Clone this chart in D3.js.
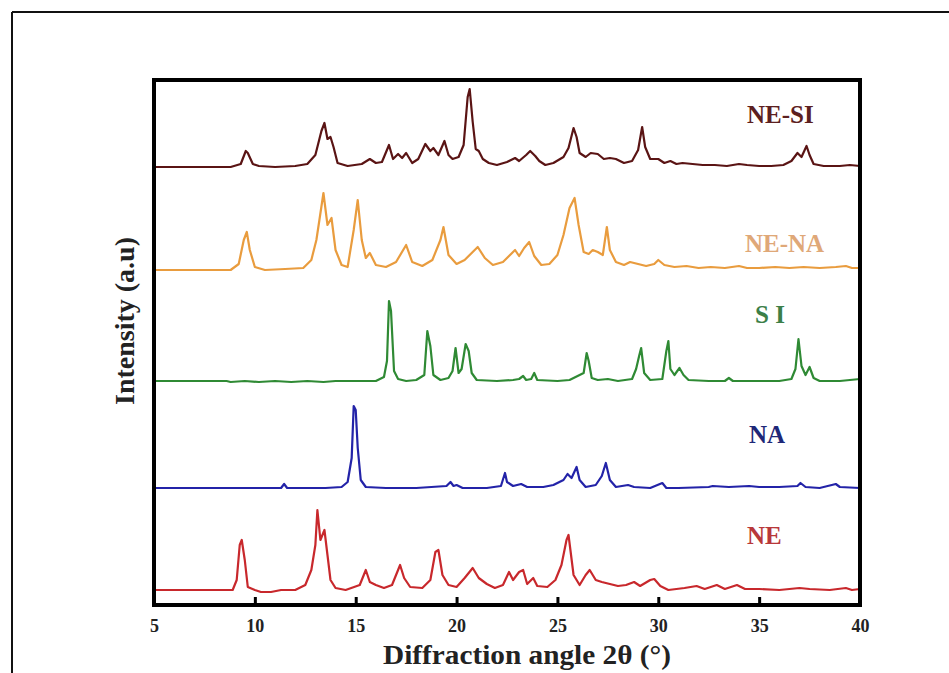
<!DOCTYPE html>
<html>
<head>
<meta charset="utf-8">
<script src="https://cdn.jsdelivr.net/npm/d3@7"></script>
<style>
  body { margin: 0; background: #fff; }
  text { font-family: "Liberation Serif", "Times New Roman", serif; font-weight: bold; }
</style>
</head>
<body>
<div id="chart"></div>
<script>
// XRD patterns, [2theta, intensity above own baseline (a.u.)]
const seriesNames = ["NE", "NA", "SI", "NE-NA", "NE-SI"];
const seriesOffsets = [15, 117, 224, 335, 438];
const xTicks = [5, 10, 15, 20, 25, 30, 35, 40];

const neData = [
  [5, 0], [7, 0], [8.9, 0], [9.1, 10], [9.25, 45], [9.35, 50], [9.5, 30], [9.65, 3], [10, 0], [10.3, -2],
  [10.8, -2], [11.3, 0], [12, 0], [12.5, 5], [12.8, 20], [13, 45], [13.1, 80], [13.25, 50], [13.45, 60],
  [13.6, 35], [13.75, 10], [14, 2], [14.5, 0], [15.2, 5], [15.5, 20], [15.7, 8], [16, 5], [16.4, 2],
  [16.8, 5], [17.2, 25], [17.4, 12], [17.7, 3], [18.3, 2], [18.7, 10], [18.95, 38], [19.1, 40], [19.3, 15],
  [19.6, 5], [20, 3], [20.4, 12], [20.8, 22], [21.1, 12], [21.5, 6], [21.9, 2], [22.3, 5], [22.6, 18],
  [22.8, 10], [23.1, 18], [23.3, 20], [23.5, 6], [23.8, 12], [24, 4], [24.5, 3], [24.9, 10], [25.2, 25],
  [25.45, 50], [25.55, 55], [25.8, 15], [26.1, 5], [26.4, 15], [26.6, 20], [26.9, 10], [27.2, 8], [27.6, 6],
  [28, 4], [28.4, 5], [28.8, 8], [29.1, 4], [29.6, 10], [29.8, 11], [30.1, 4], [30.5, 0], [31.3, 2],
  [31.9, 4], [32.3, 1], [32.9, 5], [33.3, 1], [33.9, 5], [34.3, 1], [35, 1], [36, 0], [37, 2], [37.5, 1],
  [38.5, 0], [39.3, 2], [39.6, 0], [40, 1]
];

const naData = [
  [5, 0], [8, 0], [11.3, 0], [11.45, 4], [11.6, 0], [13.5, 0], [14.3, 1], [14.6, 6], [14.8, 30], [14.9, 82],
  [15, 78], [15.1, 40], [15.25, 8], [15.5, 1], [16.5, 0], [18, 0], [19.5, 2], [19.7, 6], [19.85, 2], [20, 3],
  [20.3, 0], [21.5, 0], [22.2, 2], [22.4, 15], [22.5, 6], [22.8, 2], [23.2, 4], [23.5, 1], [24.3, 1],
  [24.8, 3], [25.3, 8], [25.5, 14], [25.7, 10], [25.95, 21], [26.1, 8], [26.4, 1], [26.9, 3], [27.2, 12],
  [27.4, 25], [27.6, 8], [27.9, 1], [28.5, 3], [28.8, 1], [29.6, 0], [30.2, 5], [30.4, 0], [31, 0],
  [32.5, 1], [32.7, 2], [33.5, 1], [34.5, 2], [35, 1], [36, 1], [36.9, 2], [37.05, 5], [37.3, 1], [38, 0],
  [38.8, 4], [39, 1], [40, 0]
];

const siData = [
  [5, 0], [8.6, 0], [8.8, -1], [9.5, 0], [10.2, -1], [11, 0], [11.8, -1], [12.6, 0], [13.4, -1], [14, 0],
  [16, 0], [16.4, 4], [16.55, 20], [16.65, 80], [16.75, 70], [16.9, 10], [17.1, 2], [17.5, 0], [18, 1],
  [18.4, 6], [18.55, 50], [18.7, 35], [18.85, 6], [19.2, 1], [19.6, 3], [19.8, 10], [19.95, 33], [20.1, 8],
  [20.25, 12], [20.45, 37], [20.6, 30], [20.75, 8], [21, 1], [22, 0], [22.8, 1], [23.1, 2], [23.3, 5],
  [23.45, 1], [23.7, 2], [23.85, 8], [24, 1], [25, 0], [25.6, 1], [26.3, 8], [26.45, 28], [26.55, 20],
  [26.7, 3], [27, 1], [27.5, 2], [28, 0], [28.7, 2], [28.9, 12], [29.05, 25], [29.15, 33], [29.3, 8],
  [29.6, 1], [30.2, 2], [30.4, 30], [30.5, 40], [30.6, 12], [30.8, 6], [31.05, 13], [31.25, 6], [31.5, 1],
  [32.5, 0], [33.3, 0], [33.5, 3], [33.7, 0], [35, 0], [36, 0], [36.6, 2], [36.8, 12], [36.95, 42],
  [37.1, 15], [37.3, 6], [37.5, 14], [37.7, 3], [38, 0], [39, 0], [40, 2]
];

const nenaData = [
  [5, 0], [8.8, 0], [9.2, 6], [9.45, 30], [9.6, 38], [9.75, 20], [10, 3], [10.5, 0], [11.5, 1], [12.4, 2],
  [12.8, 10], [13.05, 30], [13.2, 50], [13.4, 77], [13.6, 45], [13.8, 52], [14, 20], [14.3, 5], [14.6, 3],
  [14.9, 40], [15.1, 70], [15.3, 30], [15.5, 12], [15.7, 17], [16, 5], [16.5, 3], [17, 8], [17.5, 25],
  [17.8, 8], [18.3, 4], [18.8, 10], [19.2, 30], [19.35, 43], [19.6, 15], [20, 6], [20.4, 10], [20.8, 18],
  [21.05, 23], [21.4, 12], [21.8, 5], [22.3, 8], [22.6, 14], [22.9, 20], [23.1, 14], [23.35, 22],
  [23.6, 28], [23.85, 14], [24.2, 5], [24.6, 6], [25, 15], [25.3, 35], [25.6, 62], [25.85, 72],
  [26.05, 45], [26.3, 18], [26.55, 16], [26.75, 20], [27, 18], [27.25, 15], [27.45, 43], [27.6, 20],
  [27.9, 8], [28.3, 5], [28.6, 8], [29, 6], [29.4, 4], [29.8, 6], [30, 10], [30.3, 5], [30.8, 3],
  [31.4, 4], [32, 2], [32.6, 3], [33.3, 2], [34, 4], [34.4, 2], [35, 2], [35.8, 3], [36.5, 2], [37.2, 3],
  [38, 2], [38.8, 3], [39.3, 4], [39.6, 2], [40, 2]
];

const nesiData = [
  [5, 0], [7, 0], [8.8, 0], [9.3, 3], [9.55, 16], [9.65, 14], [9.9, 3], [10.2, 1], [11, 0], [12, 1],
  [12.6, 3], [13, 12], [13.3, 36], [13.45, 44], [13.6, 28], [13.75, 30], [13.9, 20], [14.1, 4], [14.6, 1],
  [15.3, 3], [15.7, 8], [16, 4], [16.3, 5], [16.65, 22], [16.85, 8], [17.1, 13], [17.3, 9], [17.5, 14],
  [17.8, 4], [18.1, 8], [18.45, 23], [18.7, 16], [18.85, 19], [19.1, 12], [19.4, 26], [19.6, 12],
  [19.8, 8], [20.1, 10], [20.35, 22], [20.55, 70], [20.65, 78], [20.8, 45], [20.95, 18], [21.1, 16],
  [21.3, 8], [21.6, 4], [22, 2], [22.5, 5], [22.9, 9], [23.1, 6], [23.45, 12], [23.65, 16], [23.9, 11],
  [24.1, 6], [24.4, 2], [24.8, 4], [25.3, 10], [25.55, 19], [25.8, 39], [25.95, 30], [26.1, 14],
  [26.4, 10], [26.65, 14], [27, 13], [27.3, 8], [27.6, 9], [27.9, 8], [28.3, 4], [28.7, 6], [29, 17],
  [29.2, 40], [29.35, 20], [29.6, 8], [30, 8], [30.3, 4], [30.6, 6], [30.9, 3], [31.2, 4], [31.7, 3],
  [32.2, 2], [32.8, 2], [33.4, 1], [34, 3], [34.4, 2], [35, 1], [35.6, 1], [36.2, 2], [36.6, 6],
  [36.9, 14], [37.1, 10], [37.35, 21], [37.5, 12], [37.7, 3], [38.2, 1], [39, 1], [39.5, 2], [40, 1]
];

const seriesData = [neData, naData, siData, nenaData, nesiData];
const lineColors = ["#c8282c", "#2323a8", "#2f8a34", "#e99c3e", "#5a1414"];
const labelColors = ["#b8383a", "#1e2878", "#3c7f48", "#dfa878", "#5c2020"];
const labelText = ["NE", "NA", "S I", "NE-NA", "NE-SI"];
const labelPos = [[34.4, 46], [34.5, 45], [34.8, 58], [34.3, 18], [34.4, 44]]; // [2theta, a.u. above baseline]

const W = 949, H = 673;
const plot = { left: 154, right: 860, top: 80, bottom: 605 };

const svg = d3.select("#chart").append("svg")
  .attr("width", W)
  .attr("height", H);

// outer frame (top and left edges only visible)
svg.append("line").attr("x1", 12).attr("y1", 12).attr("x2", W).attr("y2", 12)
  .attr("stroke", "#111").attr("stroke-width", 2);
svg.append("line").attr("x1", 12).attr("y1", 12).attr("x2", 12).attr("y2", H)
  .attr("stroke", "#111").attr("stroke-width", 2);

const x = d3.scaleLinear().domain([5, 40]).range([plot.left, plot.right]);
const y = d3.scaleLinear().domain([0, 525]).range([plot.bottom, plot.top]);

const line = d3.line()
  .x(d => x(d[0]))
  .y(d => y(d[1]));

seriesData.forEach((data, i) => {
  const shifted = data.map(d => [d[0], d[1] + seriesOffsets[i]]);
  svg.append("path")
    .datum(shifted)
    .attr("fill", "none")
    .attr("stroke", lineColors[i])
    .attr("stroke-width", 2.2)
    .attr("stroke-linejoin", "round")
    .attr("d", line);

  svg.append("text")
    .attr("x", x(labelPos[i][0]))
    .attr("y", y(labelPos[i][1] + seriesOffsets[i]))
    .attr("fill", labelColors[i])
    .attr("font-size", 25)
    .text(labelText[i]);
});

// bottom axis: inward ticks, labels below
const xAxis = svg.append("g")
  .attr("transform", "translate(0," + plot.bottom + ")")
  .call(d3.axisBottom(x).tickValues(xTicks).tickSize(-8).tickPadding(14).tickFormat(d3.format("d")));
xAxis.select(".domain").remove();
xAxis.selectAll(".tick line").attr("stroke", "#000").attr("stroke-width", 3);
xAxis.selectAll(".tick text")
  .attr("fill", "#222")
  .attr("font-size", 18)
  .attr("font-family", "Liberation Serif, Times New Roman, serif")
  .attr("font-weight", "bold");

// plot box
svg.append("rect")
  .attr("x", plot.left).attr("y", plot.top)
  .attr("width", plot.right - plot.left).attr("height", plot.bottom - plot.top)
  .attr("fill", "none").attr("stroke", "#000").attr("stroke-width", 4);

svg.append("text")
  .attr("x", 527).attr("y", 664)
  .attr("text-anchor", "middle")
  .attr("font-size", 27)
  .attr("textLength", 288)
  .attr("lengthAdjust", "spacingAndGlyphs")
  .attr("fill", "#222")
  .text("Diffraction angle 2θ (°)");

svg.append("text")
  .attr("transform", "translate(134,321) rotate(-90)")
  .attr("text-anchor", "middle")
  .attr("font-size", 28)
  .attr("fill", "#222")
  .text("Intensity (a.u)");
</script>
</body>
</html>
